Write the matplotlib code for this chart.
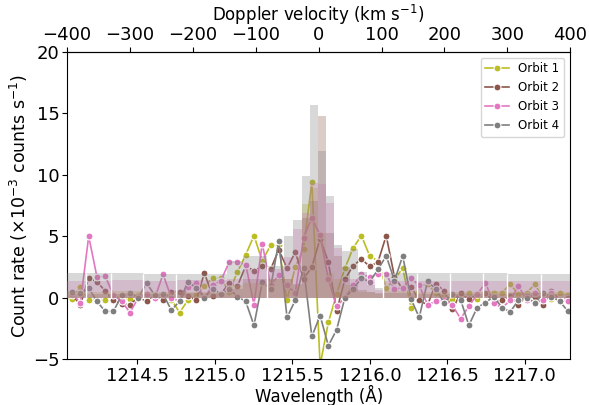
import numpy as np
import matplotlib
matplotlib.use("Agg")
import matplotlib.pyplot as plt

# Lyman-alpha rest wavelength and speed of light
lya = 1215.67
c_kms = 299792.458

# wavelength grid of the spectra (A)
wave = 1214.027 + 0.0533 * np.arange(62)

orbit1 = [0.0, -0.1, 0.9, -0.15, -0.15, -0.15, 0.3, -0.15, -0.1, 0.2, 0.2, 0.3, 0.0,
          -0.15, -1.2, -0.2, 0.25, 0.95, 1.6, 1.6, 0.5, 2.1, 3.5, 5.05, 3.0, 4.25, 4.25,
          -0.15, 2.5, 4.0, 9.4, -5.5, -2.0, 0.3, 2.4, 4.05, 5.05, 3.4, 3.0, 0.8, 1.5, 2.4,
          -0.8, 0.95, 1.1, 0.4, 0.2, -0.1, 0.4, 0.4, -0.1, 0.3, 0.4, 0.4, 1.1, 0.3, 0.4,
          1.1, -0.1, -0.1, 0.4, 0.2]
orbit2 = [0.15, 0.2, -0.55, 1.6, 1.3, 0.55, -0.2, -0.5, -0.55, 0.05, -0.3, 0.2, -0.15,
          0.5, 0.5, 0.15, -0.2, 2.0, 0.15, 0.3, 1.2, 0.95, 2.6, 2.2, 2.55, 2.3, 3.9, 2.4,
          3.7, 1.55, 2.5, 4.8, 2.9, -1.1, 1.5, 2.6, 3.15, 2.55, 2.9, 5.05, 1.7, 0.7, 0.9,
          -0.2, -0.6, 1.15, 0.55, -0.95, 0.35, -0.1, 0.27, 0.4, -0.3, -0.2, 0.15, -0.55,
          0.15, 0.1, -0.55, 0.55, -0.2, 0.0]
orbit3 = [0.2, 0.3, -0.4, 5.0, 1.7, 1.75, 0.2, -0.3, -1.2, 0.0, 0.3, 0.0, 1.9, 0.0,
          -0.3, 0.85, 1.2, 0.0, 1.0, 1.4, 2.9, 2.9, 2.7, -0.55, 4.4, 1.0, 1.85, 1.0, 0.4,
          4.9, 6.5, 5.1, 1.5, -0.7, 0.0, 1.0, 1.9, 1.7, 1.9, 1.9, 0.7, 0.8, 1.6, 1.0,
          -0.55, -0.3, -0.2, -0.6, -1.7, -0.7, 0.27, 1.2, -0.4, -0.85, -0.2, 0.95, -0.2,
          0.4, -0.2, 0.4, -0.2, -0.3]
orbit4 = [0.3, 0.5, 0.4, 0.8, -0.3, -1.1, -1.1, 0.2, 0.4, 0.0, 1.2, 0.2, 0.3, -1.0,
          -0.3, 1.3, 0.8, 0.0, 0.75, 0.3, 0.7, 0.1, -0.3, -2.25, 1.25, 0.75, 4.6, -1.6,
          -0.2, 2.45, -3.15, -1.45, -3.9, -2.6, 0.0, 0.7, 1.6, 1.3, 2.3, 3.4, 1.4, 3.4,
          -0.1, -1.6, 1.35, 0.7, -0.4, 0.3, -0.15, -2.25, -0.8, -0.4, 0.1, -0.8, -1.15,
          -0.2, 0.0, -0.4, 0.35, 0.1, -0.3, -1.1]

# binned histograms (variable bin edges, A)
bin_edges = [1213.874, 1214.170, 1214.332, 1214.538, 1214.751, 1215.080, 1215.183,
             1215.338, 1215.447, 1215.505, 1215.560, 1215.611, 1215.663, 1215.718,
             1215.770, 1215.821, 1215.873, 1215.924, 1215.979, 1216.034, 1216.085,
             1216.303, 1216.517, 1216.728, 1216.887, 1217.102, 1217.484]
hist1 = [0.55, 0.5, 0.55, 0.5, 0.5, 1.0, 1.2, 1.5, 1.5, 1.0, 7.6, 8.9, 5.3, 2.0, 1.5,
         1.0, 0.7, 0.5, 0.5, 0.3, 0.55, 0.5, 0.5, 0.55, 0.5, 0.5]
hist2 = [0.3, 0.3, 0.3, 0.3, 0.35, 0.7, 1.5, 1.5, 1.5, 1.1, 6.5, 7.9, 14.8, 5.3, 3.4,
         2.5, 1.0, 0.6, 0.5, 0.4, 0.35, 0.3, 0.3, 0.3, 0.35, 0.3]
hist3 = [1.4, 1.4, 1.45, 1.4, 1.45, 1.5, 2.3, 2.3, 3.3, 5.6, 6.9, 9.3, 9.25, 7.7, 4.05,
         1.5, 1.5, 1.6, 1.5, 0.6, 1.4, 1.4, 1.4, 1.4, 1.4, 1.4]
hist4 = [2.0, 2.0, 2.0, 1.95, 1.95, 2.95, 3.4, 2.6, 5.0, 6.3, 9.9, 15.7, 11.9, 8.3, 4.3,
         3.8, 4.0, 2.1, 1.0, 0.8, 2.0, 2.0, 2.0, 2.0, 1.95, 1.95]
# bin edges drawn with a white separator (the wide wing bins)
wide_edges = [1214.170, 1214.332, 1214.538, 1214.751, 1215.338,
              1216.085, 1216.303, 1216.517, 1216.728, 1216.887, 1217.102]

labels = ['Orbit 1', 'Orbit 2', 'Orbit 3', 'Orbit 4']
colors = ['tab:olive', 'tab:brown', 'tab:pink', 'tab:gray']
series = [orbit1, orbit2, orbit3, orbit4]
hists = [hist1, hist2, hist3, hist4]

fig = plt.figure(figsize=(5.89, 4.05), dpi=100)
ax = fig.add_axes([0.114, 0.113, 0.854, 0.759])

for y, lab, col in zip(series, labels, colors):
    ax.plot(wave, y, '-o', color=col, label=lab, lw=1.2, ms=5,
            mec='white', mew=0.8, zorder=2)

edges = np.array(bin_edges)
widths = np.diff(edges)
for h, col in zip(hists, colors):
    ax.bar(edges[:-1], h, width=widths, align='edge', color=col, alpha=0.3,
           linewidth=0, zorder=3)
# thin white separators between the wide bins
top = np.interp(wide_edges, edges[:-1], hist4)
ax.vlines(wide_edges, 0, top, color='white', lw=1.0, zorder=3)

ax.set_xlim(lya * (1 - 400 / c_kms), lya * (1 + 400 / c_kms))
ax.set_ylim(-5, 20)
ax.set_xticks([1214.5, 1215.0, 1215.5, 1216.0, 1216.5, 1217.0])
ax.set_xlabel('Wavelength (Å)', fontsize=12, labelpad=0)
ax.set_ylabel(r'Count rate ($\times 10^{-3}$ counts s$^{-1}$)', fontsize=12.5,
              labelpad=2)
ax.tick_params(labelsize=13, pad=2)

sec = ax.secondary_xaxis('top', functions=(lambda w: (w - lya) / lya * c_kms,
                                           lambda v: lya * (1 + v / c_kms)))
sec.set_xticks([-400, -300, -200, -100, 0, 100, 200, 300, 400])
sec.set_xlabel(r'Doppler velocity (km s$^{-1}$)', fontsize=12, labelpad=4)
sec.tick_params(labelsize=13, pad=2)

ax.legend(loc='upper right', fontsize=8.5)

fig.savefig('out.png', dpi=100)
